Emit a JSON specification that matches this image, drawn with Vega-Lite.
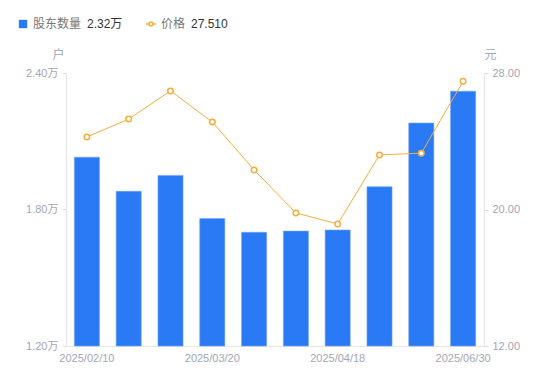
{
  "$schema": "https://vega.github.io/schema/vega-lite/v6.json",
  "width": 418,
  "height": 273,
  "autosize": {"type": "none"},
  "padding": {"left": 66, "top": 73, "right": 66, "bottom": 35},
  "config": {
    "font": "Liberation Sans, Noto Sans CJK SC",
    "view": {"stroke": null},
    "background": "white"
  },
  "data": {
    "values": [
      {"date": "2025/02/10", "holders": 2.03, "price": 24.25},
      {"date": "2025/02/20", "holders": 1.88, "price": 25.3},
      {"date": "2025/02/28", "holders": 1.95, "price": 26.95},
      {"date": "2025/03/20", "holders": 1.76, "price": 25.13},
      {"date": "2025/03/31", "holders": 1.70, "price": 22.32},
      {"date": "2025/04/10", "holders": 1.705, "price": 19.8},
      {"date": "2025/04/18", "holders": 1.71, "price": 19.15},
      {"date": "2025/05/20", "holders": 1.90, "price": 23.2},
      {"date": "2025/06/10", "holders": 2.18, "price": 23.3},
      {"date": "2025/06/30", "holders": 2.32, "price": 27.51}
    ]
  },
  "encoding": {
    "x": {
      "field": "date",
      "type": "ordinal",
      "sort": null,
      "scale": {"paddingInner": 0.4, "paddingOuter": 0.2},
      "axis": {
        "values": ["2025/02/10", "2025/03/20", "2025/04/18", "2025/06/30"],
        "labelAngle": 0,
        "ticks": false,
        "domainColor": "#e6e6e6",
        "labelColor": "#a3a6b4",
        "labelFontSize": 11,
        "labelPadding": 6,
        "title": null
      }
    }
  },
  "layer": [
    {
      "mark": {"type": "bar", "stroke": "#6ea3f7", "strokeWidth": 0.6},
      "encoding": {
        "y": {
          "field": "holders",
          "type": "quantitative",
          "scale": {"domain": [1.2, 2.4], "zero": false},
          "axis": {
            "orient": "left",
            "values": [1.2, 1.8, 2.4],
            "labelExpr": "format(datum.value, '.2f') + '万'",
            "grid": false,
            "tickColor": "#dddddd",
            "tickSize": 4,
            "domainColor": "#e6e6e6",
            "labelColor": "#a3a6b4",
            "labelFontSize": 11,
            "labelPadding": 4,
            "title": "户",
            "titleAngle": 0,
            "titleX": -8,
            "titleY": -12,
            "titleAlign": "center",
            "titleBaseline": "bottom",
            "titleFontWeight": "normal",
            "titleColor": "#a3a6b4",
            "titleFontSize": 12
          }
        },
        "y2": {"datum": 1.2},
        "fill": {
          "datum": "股东数量",
          "type": "nominal",
          "scale": {"range": ["#2a7af5"]},
          "legend": {
            "orient": "none",
            "legendX": -49,
            "legendY": -55,
            "symbolType": "square",
            "symbolSize": 70,
            "symbolStrokeWidth": 0,
            "labelColor": "#777777",
            "labelFontSize": 12,
            "title": "2.32万",
            "titleOrient": "right",
            "titleColor": "#333333",
            "titleFontSize": 12,
            "titleFontWeight": "normal",
            "titlePadding": 6
          }
        }
      }
    },
    {
      "encoding": {
        "y": {
          "field": "price",
          "type": "quantitative",
          "scale": {"domain": [12, 28], "zero": false},
          "axis": {
            "orient": "right",
            "values": [12, 20, 28],
            "format": ".2f",
            "grid": false,
            "tickColor": "#dddddd",
            "tickSize": 4,
            "domainColor": "#e6e6e6",
            "labelColor": "#a3a6b4",
            "labelFontSize": 11,
            "labelPadding": 4,
            "title": "元",
            "titleAngle": 0,
            "titleX": 6,
            "titleY": -12,
            "titleAlign": "center",
            "titleBaseline": "bottom",
            "titleFontWeight": "normal",
            "titleColor": "#a3a6b4",
            "titleFontSize": 12
          }
        },
        "stroke": {
          "datum": "价格",
          "type": "nominal",
          "scale": {"range": ["#f6ad3c"]},
          "legend": {
            "orient": "none",
            "legendX": 79,
            "legendY": -55,
            "symbolType": "M-1,0H-0.4M0.4,0H1M-0.4,0A0.4,0.4,0,1,1,0.4,0A0.4,0.4,0,1,1,-0.4,0Z",
            "symbolSize": 100,
            "symbolStrokeWidth": 1.5,
            "symbolFillColor": "white",
            "labelColor": "#777777",
            "labelFontSize": 12,
            "title": "27.510",
            "titleOrient": "right",
            "titleColor": "#333333",
            "titleFontSize": 12,
            "titleFontWeight": "normal",
            "titlePadding": 6
          }
        }
      },
      "layer": [
        {"mark": {"type": "line", "strokeWidth": 1}},
        {"mark": {"type": "point", "filled": false, "fill": "white", "size": 30, "strokeWidth": 1.5, "opacity": 1}}
      ]
    }
  ],
  "resolve": {"scale": {"y": "independent", "fill": "independent", "stroke": "independent"}}
}
